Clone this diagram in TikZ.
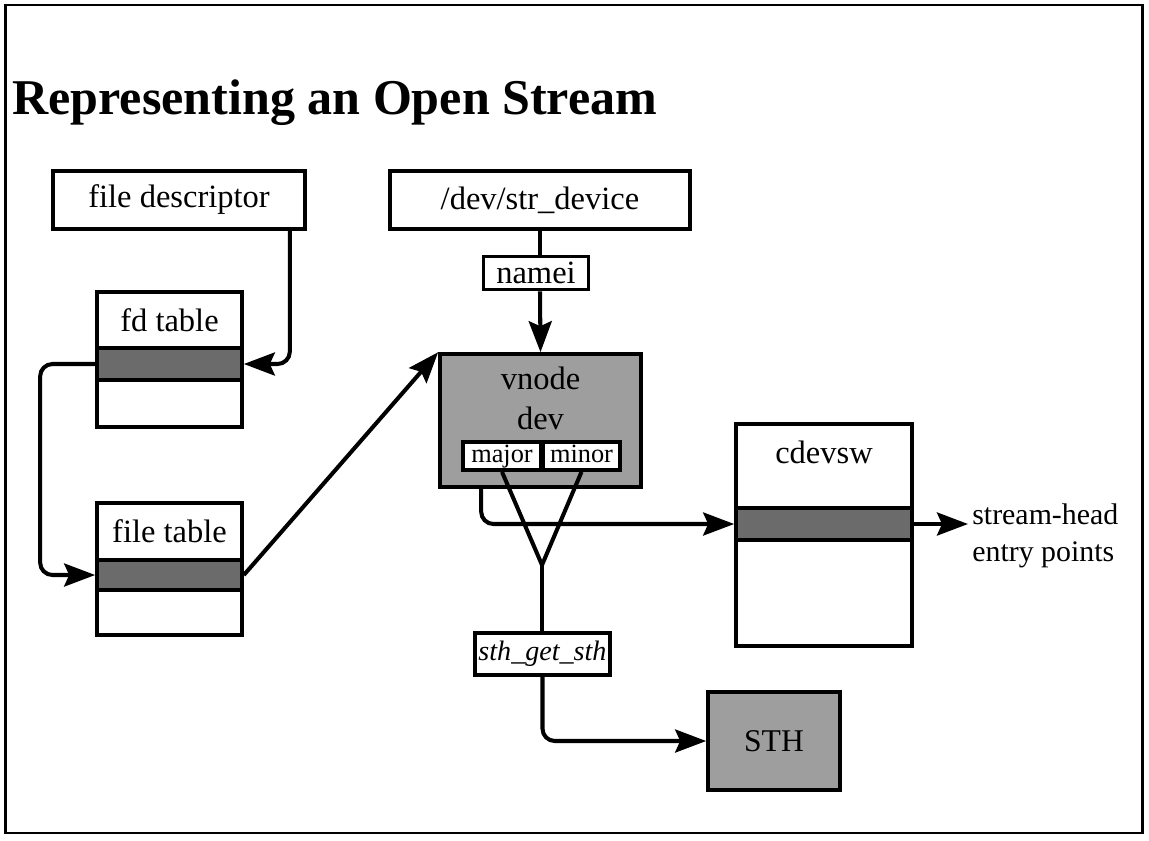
\documentclass[tikz,border=0pt]{standalone}
\usepackage{fontspec}
\setmainfont{Liberation Serif}
\usetikzlibrary{arrows.meta,calc}
\begin{document}
\begin{tikzpicture}[x=0.02cm,y=-0.02cm,
  lw/.style={line width=2.1pt},
  box/.style={draw, lw, fill=white, inner sep=0pt, font=\fontsize{18.5}{22}\selectfont},
  shaded/.style={draw, lw, fill=black!38, inner sep=0pt},
  band/.style={draw, lw, fill=black!58, inner sep=0pt},
  lbl/.style={inner sep=0pt, font=\fontsize{18.5}{22}\selectfont},
  small/.style={inner sep=0pt, font=\fontsize{15}{18}\selectfont, text height=10pt, text depth=3pt},
  conn/.style={line width=2.3pt},
  arr/.style={line width=2.3pt, -{Stealth[length=0.62cm,width=0.46cm,inset=0.1cm]}}
]
\useasboundingbox (0,0) rectangle (1149,840);
\node[draw, line width=1.6pt, minimum width=22.76cm, minimum height=16.56cm, inner sep=0pt] (frame) at (574,419) {};
\node[anchor=base west, inner sep=0pt, font=\fontsize{28.5}{32}\selectfont\bfseries] (title) at (12,114) {Representing an Open Stream};

% top boxes
\node[box, minimum width=5.04cm, minimum height=1.16cm] (fdbox) at (179,200) {file descriptor};
\node[box, minimum width=6.0cm, minimum height=1.16cm] (devbox) at (540,200) {/dev/str\_device};
\node[box, minimum width=2.1cm, minimum height=0.66cm] (namei) at (536,273) {namei};

% fd table
\node[box, minimum width=2.9cm, minimum height=2.7cm] (fdt) at (169.5,359.5) {};
\node[band, minimum width=2.9cm, minimum height=0.64cm] (fdtband) at (169.5,364) {};
\node[lbl] (fdtlbl) at (169.5,320) {fd table};

% file table
\node[box, minimum width=2.9cm, minimum height=2.64cm] (ftt) at (169.5,569) {};
\node[band, minimum width=2.9cm, minimum height=0.6cm] (ftband) at (169.5,575) {};
\node[lbl] (fttlbl) at (169.5,531) {file table};

% vnode
\node[shaded, minimum width=4.02cm, minimum height=2.66cm] (vnode) at (540.5,420.5) {};
\node[lbl] (vnodelbl) at (540.5,378) {vnode};
\node[lbl] (devlbl) at (540.5,418) {dev};
\node[box, small, minimum width=1.56cm, minimum height=0.56cm] (major) at (502,456) {major};
\node[box, small, minimum width=1.54cm, minimum height=0.56cm] (minor) at (581.5,456) {minor};

% cdevsw
\node[box, minimum width=3.52cm, minimum height=4.44cm] (cdev) at (824,535) {};
\node[band, minimum width=3.52cm, minimum height=0.64cm] (cdband) at (824,524) {};
\node[lbl] (cdevlbl) at (824,452) {cdevsw};
\node[lbl, anchor=west, align=left, font=\fontsize{17}{21}\selectfont] (entry) at (972,536) {stream-head\\entry points};
\coordinate (entrytip) at (968,524);

% sth_get_sth and STH
\node[box, minimum width=2.7cm, minimum height=0.84cm, font=\fontsize{16}{19}\selectfont\itshape] (sth) at (542.5,654) {sth\_get\_sth};
\node[shaded, minimum width=2.64cm, minimum height=1.96cm, font=\fontsize{18}{21}\selectfont] (STH) at (774,741) {STH};

\coordinate (junc) at (542,565);
\coordinate (vbot) at ($(vnode.south west)+(43,0)$);
\coordinate (fdtop) at ($(fdbox.south east)+(-17,0)$);

% connectors
\draw[arr, rounded corners=7pt] (fdtop) |- (fdtband.east);
\draw[arr, rounded corners=7pt] (fdtband.west) -- ++(-55,0) |- (ftband.west);
\draw[arr] (ftband.east) -- (vnode.north west);
\draw[conn] (devbox.south) -- (devbox.south |- namei.north);
\draw[arr] (namei.south -| devbox.south) -- (vnode.north);
\draw[conn, line join=miter] (major.south) -- (junc) -- (minor.south);
\draw[conn] (junc) -- (junc |- sth.north);
\draw[arr, rounded corners=7pt] (vbot) |- (cdband.west);
\draw[arr] (cdband.east) -- (entrytip);
\draw[arr, rounded corners=7pt] (sth.south) |- (STH.west);
\end{tikzpicture}
\end{document}
